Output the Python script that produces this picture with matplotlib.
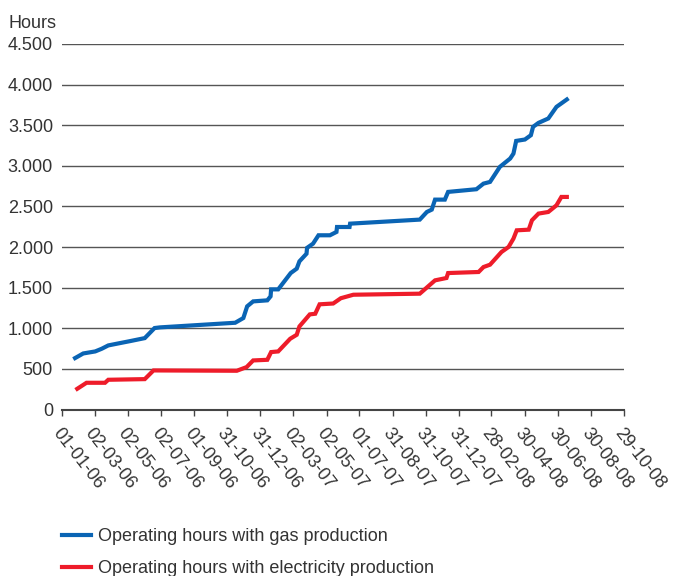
import pandas as pd
import matplotlib
matplotlib.use('Agg')
import matplotlib.pyplot as plt
import matplotlib.ticker as mticker

plt.rcParams['font.family'] = ['Liberation Sans', 'DejaVu Sans']

gas_dates = ['2006-01-25', '2006-02-09', '2006-03-03', '2006-03-15', '2006-03-27',
             '2006-04-11', '2006-05-06', '2006-06-02', '2006-06-20', '2006-06-30',
             '2006-11-15', '2006-11-30', '2006-12-07', '2006-12-18', '2007-01-13',
             '2007-01-19', '2007-01-20', '2007-02-02', '2007-02-25', '2007-03-08',
             '2007-03-13', '2007-03-26', '2007-03-27', '2007-04-07', '2007-04-17',
             '2007-05-08', '2007-05-20', '2007-05-21', '2007-06-13', '2007-06-14',
             '2007-10-20', '2007-11-02', '2007-11-11', '2007-11-17', '2007-12-05',
             '2007-12-11', '2008-02-01', '2008-02-14', '2008-02-26', '2008-03-15',
             '2008-04-03', '2008-04-09', '2008-04-14', '2008-04-30', '2008-05-11',
             '2008-05-15', '2008-05-25', '2008-06-12', '2008-06-27', '2008-07-16']
gas_hours = [633, 690, 715, 748, 789,
             809, 842, 879, 1003, 1011,
             1068, 1126, 1270, 1331, 1344,
             1393, 1479, 1479, 1680, 1734,
             1824, 1918, 1990, 2042, 2145,
             2145, 2186, 2247, 2247, 2288,
             2338, 2432, 2461, 2584, 2584,
             2679, 2712, 2781, 2802, 2987,
             3090, 3151, 3307, 3324, 3377,
             3480, 3529, 3583, 3726, 3817]

el_dates = ['2006-01-29', '2006-02-15', '2006-03-21', '2006-03-27', '2006-06-02',
            '2006-06-18', '2006-11-18', '2006-12-06', '2006-12-18', '2007-01-13',
            '2007-01-20', '2007-02-02', '2007-02-24', '2007-03-08', '2007-03-13',
            '2007-04-01', '2007-04-11', '2007-04-19', '2007-05-14', '2007-05-28',
            '2007-06-20', '2007-10-20', '2007-11-17', '2007-12-08', '2007-12-11',
            '2008-02-05', '2008-02-14', '2008-02-26', '2008-03-18', '2008-03-31',
            '2008-04-09', '2008-04-15', '2008-05-07', '2008-05-13', '2008-05-25',
            '2008-06-12', '2008-06-27', '2008-07-06', '2008-07-16']
el_hours = [255, 329, 329, 366, 374,
            481, 477, 522, 604, 612,
            707, 715, 871, 920, 1023,
            1171, 1179, 1295, 1305, 1370,
            1413, 1426, 1590, 1619, 1680,
            1693, 1754, 1783, 1939, 2001,
            2104, 2206, 2214, 2330, 2412,
            2432, 2514, 2617, 2617]

tick_labels = ['01-01-06', '02-03-06', '02-05-06', '02-07-06', '01-09-06', '31-10-06',
               '31-12-06', '02-03-07', '02-05-07', '01-07-07', '31-08-07', '31-10-07',
               '31-12-07', '28-02-08', '30-04-08', '30-06-08', '30-08-08', '29-10-08']
y_ticks = [0, 500, 1000, 1500, 2000, 2500, 3000, 3500, 4000, 4500]

gas_blue = '#0a64b4'
el_red = '#ee1c2a'
text_col = '#333333'

fig = plt.figure(figsize=(6.74, 5.76), dpi=100)
ax = fig.add_axes([62 / 674, 1 - 409.5 / 576, (624 - 62) / 674, (409.5 - 44) / 576])

ax.plot(pd.to_datetime(gas_dates), gas_hours, color=gas_blue, lw=3,
        solid_joinstyle='miter', label='Operating hours with gas production', zorder=3)
ax.plot(pd.to_datetime(el_dates), el_hours, color=el_red, lw=3,
        solid_joinstyle='miter', label='Operating hours with electricity production', zorder=3)

tick_dates = pd.to_datetime(tick_labels, format='%d-%m-%y')
ax.set_xlim(tick_dates[0], tick_dates[-1])
ax.set_ylim(0, 4500)
ax.set_xticks(tick_dates)
ax.set_xticklabels(tick_labels, rotation=-52, ha='left', va='top',
                   rotation_mode='anchor', fontsize=13, color=text_col)
ax.set_yticks(y_ticks)
ax.yaxis.set_major_formatter(mticker.FuncFormatter(lambda v, p: f'{int(v):,}'.replace(',', '.')))
ax.tick_params(axis='y', length=0, pad=6.5, labelsize=13, labelcolor=text_col)
ax.tick_params(axis='x', direction='out', length=4, width=1, color='#444444', pad=7)

ax.grid(axis='y', color='#555555', lw=1)
ax.set_axisbelow(True)
for s in ['left', 'right', 'top']:
    ax.spines[s].set_visible(False)
ax.spines['bottom'].set_color('#444444')
ax.spines['bottom'].set_linewidth(1.5)

fig.text(9 / 674, 1 - 28 / 576, 'Hours', fontsize=13, color=text_col, va='baseline')

fig.legend(loc='upper left', bbox_to_anchor=(62 / 674, 1 - 528 / 576), frameon=False,
           fontsize=13, handlelength=1.6, handletextpad=0.4, labelspacing=0.85,
           borderpad=0, borderaxespad=0, labelcolor=text_col)

fig.savefig('out.png', dpi=100)
